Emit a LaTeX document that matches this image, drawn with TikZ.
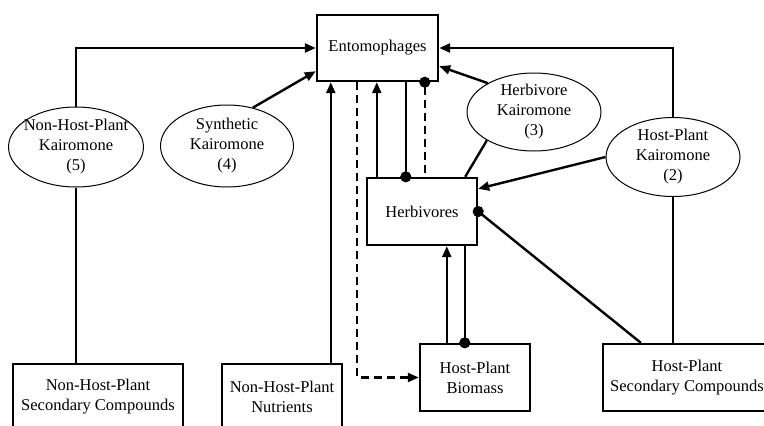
\documentclass[tikz,border=0pt]{standalone}
\usepackage{fontspec}
\setmainfont{Liberation Serif}
\usetikzlibrary{arrows.meta,shapes.geometric,calc}
\begin{document}
\begin{tikzpicture}[x=1pt,y=-1pt,
  txt/.style={font=\fontsize{16.5}{20}\selectfont, align=center, inner sep=0pt},
  box/.style={draw, line width=2.4pt, rectangle, inner sep=0pt, font=\fontsize{16.5}{20}\selectfont, align=center},
  ell/.style={draw, line width=1pt, ellipse, inner sep=0pt},
  conn/.style={line width=2.4pt},
  arr/.style={conn, -{Triangle[length=11pt,width=9pt]}},
  dashline/.style={dash pattern=on 8pt off 5pt},
  dotend/.style={conn, -{Circle[length=11pt]}, shorten >=-5.5pt},
  dotstart/.style={conn, {Circle[length=11pt]}-, shorten <=-5.5pt}
]
\useasboundingbox (0,0) rectangle (764,426);
\clip (0,0) rectangle (764,426);
\fill[white] (0,0) rectangle (764,426);

% boxes
\node[box, minimum width=121pt, minimum height=66pt] (ent) at (377.5,48) {Entomophages};
\node[box, minimum width=110pt, minimum height=67pt] (herb) at (422,211.5) {Herbivores};
\node[box, minimum width=110pt, minimum height=67pt] (bio) at (475,377.5) {Host-Plant\\Biomass};
\node[box, minimum width=168pt, minimum height=67pt] (hpsc) at (687,377.5) {Host-Plant\\Secondary Compounds};
\node[box, minimum width=170pt, minimum height=66pt] (nhpsc) at (98,397) {Non-Host-Plant\\Secondary Compounds};
\node[box, minimum width=120pt, minimum height=66pt] (nhpn) at (282,397) {Non-Host-Plant\\Nutrients};

% ellipses
\node[ell, minimum width=135pt, minimum height=80pt] (k5) at (76,147) {};
\node[txt] (k5t) at (k5.center) {Non-Host-Plant\\Kairomone\\(5)};
\node[ell, minimum width=133pt, minimum height=82pt] (k4) at (227,146) {};
\node[txt] (k4t) at (k4.center) {Synthetic\\Kairomone\\(4)};
\node[ell, minimum width=134pt, minimum height=78pt] (k3) at (534,112) {};
\node[txt] (k3t) at (k3.center) {Herbivore\\Kairomone\\(3)};
\node[ell, minimum width=134pt, minimum height=79pt] (k2) at (673,157) {};
\node[txt] (k2t) at (k2.center) {Host-Plant\\Kairomone\\(2)};

% helper coordinates on Entomophages bottom
\coordinate (e1) at ($(ent.south west)+(15,0)$);
\coordinate (e2) at ($(ent.south west)+(41,0)$);
\coordinate (e3) at ($(ent.south west)+(61,0)$);
\coordinate (e4) at ($(ent.south west)+(90,0)$);
\coordinate (e5) at ($(ent.south west)+(109,0)$);
\coordinate (b1) at ($(bio.north west)+(28,0)$);
\coordinate (b2) at ($(bio.north west)+(46,0)$);

% connectors
\draw[arr] (k5.north) |- (ent.west);
\draw[arr] (k4.56) -- ($(ent.south west)+(0,-11)$);
\draw[arr] (nhpn.north -| e1) -- (e1);
\draw[arr, dashline] (e2) |- (bio.west);
\draw[arr] (herb.north -| e3) -- (e3);
\draw[dotend] (e4) -- (herb.north -| e4);
\draw[dotstart, dashline] (e5) -- (herb.north -| e5);
\draw[arr] (k3.148) -- ($(ent.south east)+(0,-16)$);
\draw[conn] (k3.211) -- ($(herb.north east)+(-13,0)$);
\draw[arr] (k2.north) |- (ent.east);
\draw[arr] (k2.west) -- ($(herb.north east)+(0,12)$);
\draw[conn] (k2.south) -- (hpsc.north -| k2.south);
\draw[dotstart] (herb.east) -- ($(hpsc.north west)+(39,0)$);
\draw[arr] (b1) -- (herb.south -| b1);
\draw[dotend] (herb.south -| b2) -- (b2);
\draw[conn] (k5.south) -- (k5.south |- nhpsc.north);
\end{tikzpicture}
\end{document}
